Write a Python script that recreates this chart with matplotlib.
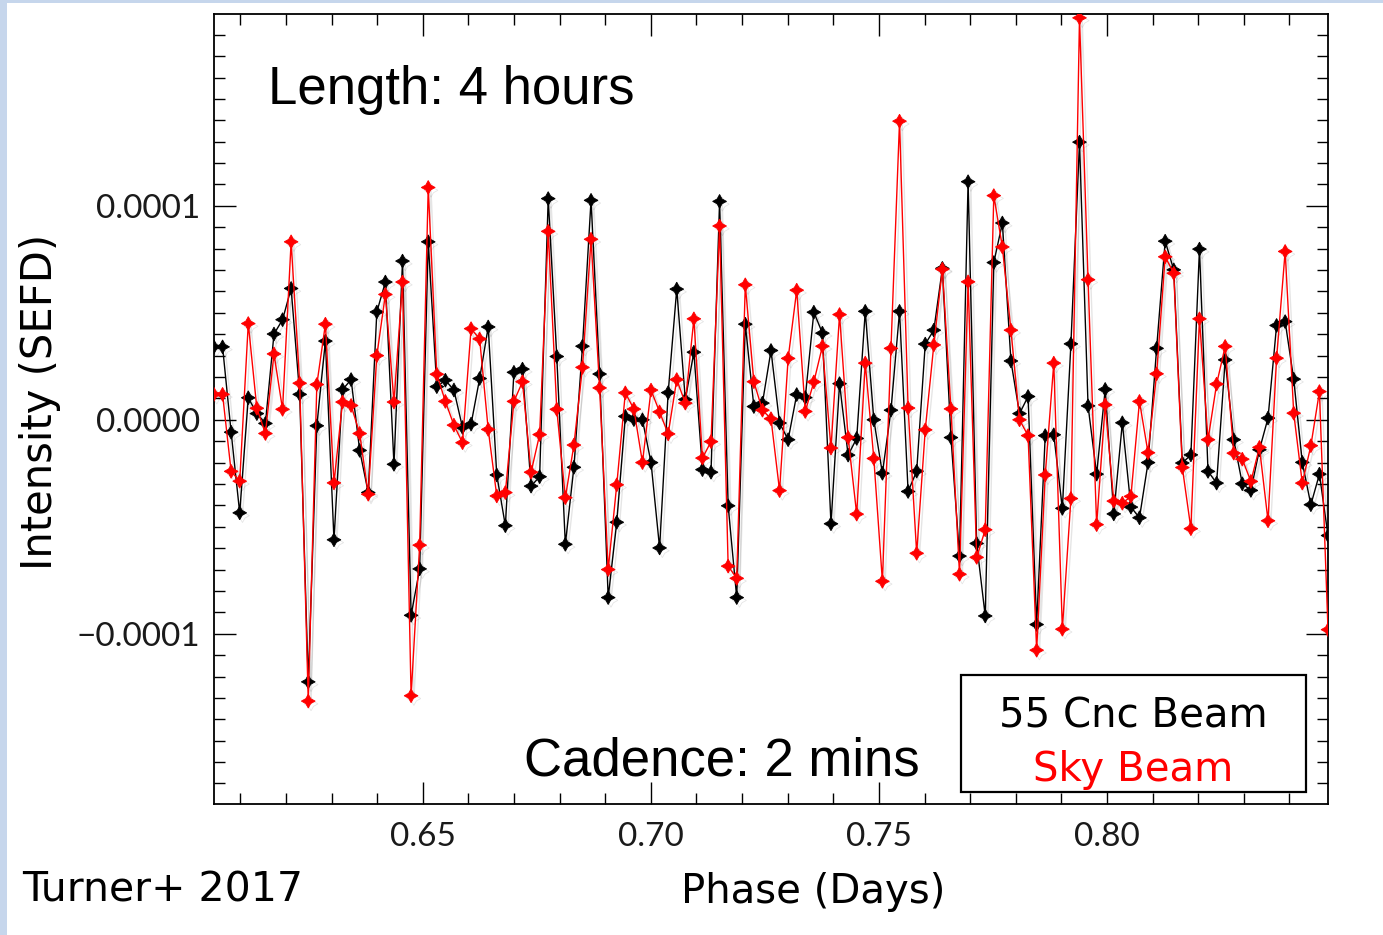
import numpy as np
import matplotlib
matplotlib.use("Agg")
import matplotlib.pyplot as plt
import matplotlib.patheffects as pe
from matplotlib.ticker import MultipleLocator
from matplotlib.patches import Rectangle

# intensity in units of 1e-5 SEFD, one value per 2-min sample
cnc_beam = [3.41, 3.41, -0.58, -4.35, 1.03, 0.29, -0.17, 4.01, 4.68, 6.14,
            1.19, -12.25, -0.28, 3.68, -5.61, 1.41, 1.88, -1.43, -3.40, 5.04,
            6.44, -2.08, 7.42, -9.14, -6.97, 8.32, 1.55, 1.85, 1.39, -0.36,
            -0.20, 1.93, 4.34, -2.58, -4.95, 2.22, 2.37, -3.10, -2.66, 10.34,
            2.96, -5.82, -2.22, 3.44, 10.26, 2.14, -8.31, -4.79, 0.16, 0.01,
            0.00, -2.00, -5.99, 1.27, 6.11, 0.95, 3.16, -2.33, -2.45, 10.21,
            -4.02, -8.31, 4.47, 0.62, 0.78, 3.24, -0.15, -0.93, 1.18, 1.04,
            5.03, 4.05, -4.86, 1.69, -1.65, -0.87, 5.07, 0.00, -2.50, 0.45,
            5.07, -3.35, -2.40, 3.54, 4.19, 7.08, -0.83, -6.37, 11.13, -5.78,
            -9.17, 7.35, 9.20, 2.75, 0.29, 1.09, -9.57, -0.74, -0.70, -4.14,
            3.55, 12.98, 0.65, -2.54, 1.42, -4.40, -0.14, -4.08, -4.58, -2.00,
            3.34, 8.35, 7.01, -2.02, -1.64, 7.98, -2.41, -2.96, 2.80, -0.93,
            -2.99, -3.30, -1.40, 0.08, 4.41, 4.59, 1.90, -1.99, -3.97, -2.54,
            -5.41]

sky_beam = [1.19, 1.19, -2.41, -2.87, 4.50, 0.54, -0.64, 3.08, 0.49, 8.32,
            1.71, -13.15, 1.65, 4.47, -2.95, 0.83, 0.67, -0.64, -3.48, 3.00,
            5.86, 0.83, 6.44, -12.90, -5.86, 10.86, 2.13, 0.86, -0.25, -1.07,
            4.26, 3.78, -0.45, -3.56, -3.40, 0.86, 1.78, -2.45, -0.69, 8.81,
            0.49, -3.64, -1.18, 2.45, 8.44, 1.49, -7.00, -3.04, 1.26, 0.50,
            -2.00, 1.39, 0.37, -0.66, 1.88, 0.78, 4.72, -1.79, -1.02, 9.06,
            -6.84, -7.41, 6.31, 1.78, 0.45, 0.05, -3.31, 2.87, 6.06, 0.39,
            1.77, 3.44, -1.32, 4.92, -0.83, -4.41, 2.65, -1.81, -7.55, 3.34,
            13.96, 0.55, -6.24, -0.47, 3.50, 7.04, 0.51, -7.22, 6.45, -6.43,
            -5.14, 10.48, 8.08, 4.19, 0.00, -0.74, -10.77, -2.58, 2.65, -9.79,
            -3.68, 18.79, 6.55, -4.90, 0.70, -3.80, -3.90, -3.58, 0.86, -1.54,
            2.15, 7.62, 6.85, -2.23, -5.09, 4.72, -0.93, 1.67, 3.43, -1.56,
            -1.84, -2.88, -1.29, -4.72, 2.88, 7.87, 0.31, -2.96, -1.21, 1.32,
            -9.81]

phase_start = 0.60423
phase_end = 0.84846

xticks = [0.65, 0.70, 0.75, 0.80]
xtick_labels = ["0.65", "0.70", "0.75", "0.80"]
yticks = [-0.0001, 0.0, 0.0001]
ytick_labels = ["\u22120.0001", "0.0000", "0.0001"]

W, H = 1383, 935
fig = plt.figure(figsize=(W / 100, H / 100), dpi=100)
fig.patch.set_facecolor("white")

# slide border (left + top strip)
fig.add_artist(Rectangle((0, 0), 7 / W, 1, transform=fig.transFigure,
                         fc="#c6d6ec", ec="none", zorder=0))
fig.add_artist(Rectangle((0, 1 - 3 / H), 1, 3 / H, transform=fig.transFigure,
                         fc="#c6d6ec", ec="none", zorder=0))

ax = fig.add_axes([214 / W, 1 - 804 / H, (1328 - 214) / W, (804 - 14) / H])

phase = np.linspace(phase_start, phase_end, len(cnc_beam))
cnc = np.array(cnc_beam) * 1e-5
sky = np.array(sky_beam) * 1e-5

shadow = [pe.SimpleLineShadow(offset=(2, -2), shadow_color="k", alpha=0.10), pe.Normal()]
star = (4, 1, 0)
ax.plot(phase, cnc, color="black", lw=1.0, marker=star, ms=10, mew=0.6,
        path_effects=shadow, zorder=2)
ax.plot(phase, sky, color="red", lw=1.0, marker=star, ms=10, mew=0.6,
        path_effects=shadow, zorder=3)

ax.set_xlim(phase_start, phase_end)
ax.set_ylim(-0.0001796, 0.0001897)

ax.set_xticks(xticks, labels=xtick_labels)
ax.set_yticks(yticks, labels=ytick_labels)
ax.xaxis.set_minor_locator(MultipleLocator(0.01))
ax.yaxis.set_minor_locator(MultipleLocator(0.00001))

ax.tick_params(which="both", direction="in", top=True, right=True,
               width=1.0, color="black")
ax.tick_params(which="major", length=16)
ax.tick_params(which="minor", length=8)
ax.tick_params(axis="x", which="major", pad=13)
ax.tick_params(axis="y", which="major", pad=10)
for lab in ax.get_xticklabels() + ax.get_yticklabels():
    lab.set_family(["Lato", "DejaVu Sans"])
    lab.set_fontweight("normal")
    lab.set_fontsize(24)
    lab.set_color("#1a1a1a")

for sp in ax.spines.values():
    sp.set_linewidth(1.3)

# text annotations
fig.text(268 / W, 1 - 104 / H, "Length: 4 hours", fontsize=38,
         family="Liberation Sans", ha="left", va="baseline")
fig.text(524 / W, 1 - 776 / H, "Cadence: 2 mins", fontsize=38,
         family="Liberation Sans", ha="left", va="baseline")

# legend box
fig.add_artist(Rectangle((961 / W, 1 - 792 / H), (1306 - 961) / W, (792 - 675) / H,
                         transform=fig.transFigure, fc="white", ec="black",
                         lw=1.6, zorder=2))
fig.text(1133 / W, 1 - 727 / H, "55 Cnc Beam", fontsize=29, color="black",
         ha="center", va="baseline", zorder=4)
fig.text(1133 / W, 1 - 781 / H, "Sky Beam", fontsize=29, color="red",
         ha="center", va="baseline", zorder=4)

# axis labels
fig.text(52 / W, 1 - 402 / H, "Intensity (SEFD)", fontsize=30, rotation=90,
         rotation_mode="anchor", ha="center", va="baseline")
fig.text(813 / W, 1 - 903 / H, "Phase (Days)", fontsize=29,
         ha="center", va="baseline")
fig.text(22 / W, 1 - 902 / H, "Turner+ 2017", fontsize=29.5,
         ha="left", va="baseline")

fig.savefig("out.png", dpi=100, facecolor="white")
